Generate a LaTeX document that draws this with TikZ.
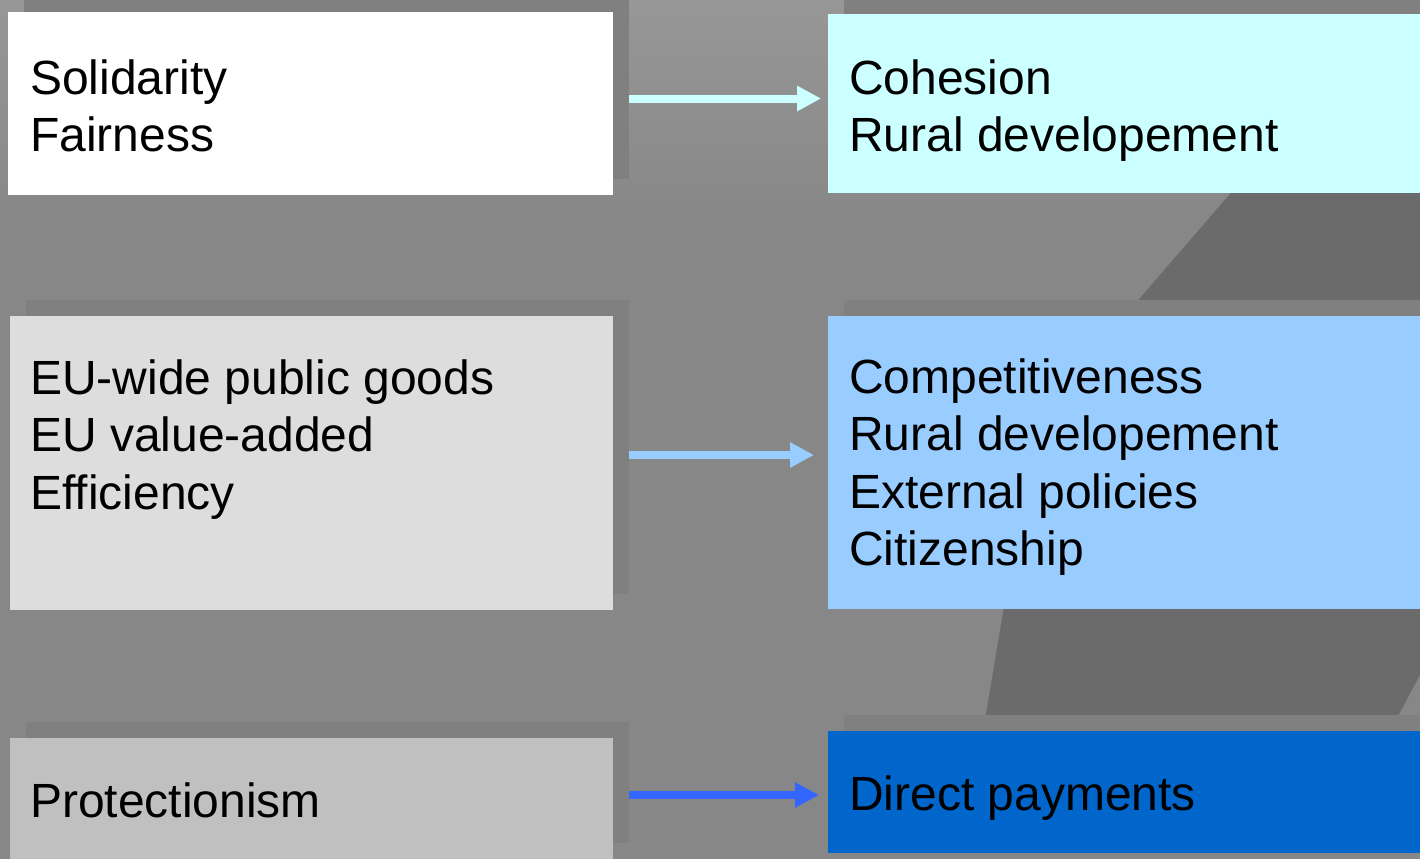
\documentclass[tikz,border=0pt]{standalone}
\usepackage{fontspec}
\setmainfont{Liberation Sans}
\usetikzlibrary{arrows.meta,shadows}
\definecolor{bg}{HTML}{878787}
\definecolor{bgtop}{HTML}{979797}
\definecolor{shade}{HTML}{808080}
\definecolor{darkshape}{HTML}{6B6B6B}
\definecolor{cyanbox}{HTML}{CCFFFF}
\definecolor{lblue}{HTML}{99CCFF}
\definecolor{dblue}{HTML}{0066CC}
\definecolor{arrblue}{HTML}{3366FF}
\definecolor{lgray}{HTML}{DDDDDD}
\definecolor{mgray}{HTML}{C0C0C0}
\begin{document}
\begin{tikzpicture}[x=1pt,y=-1pt,
  box/.style={draw=none,inner sep=0pt,outer sep=0pt,anchor=north west,
    drop shadow={shadow xshift=16pt,shadow yshift=16pt,fill=shade,opacity=1}},
  txt/.style={anchor=base west,inner sep=0pt,font=\fontsize{48}{57.5}\selectfont},
  arr/.style={line width=8pt,-{Triangle[length=24pt,width=24pt]}},
  ]
\useasboundingbox (0,0) rectangle (1420,859);
% background
\fill[bg] (0,0) rectangle (1420,859);
\shade[top color=bgtop,bottom color=bg] (0,0) rectangle (1420,220);
% dark background shapes
\fill[darkshape] (1242,180) -- (1440,180) -- (1440,305) -- (1134,305) -- cycle;
\fill[darkshape] (1005,600) -- (1440,600) -- (1440,637) -- (1396,720) -- (985,720) -- cycle;
% boxes
\node[box,fill=white,minimum width=605pt,minimum height=183pt] (L1) at (8,12) {};
\node[box,fill=lgray,minimum width=603pt,minimum height=294pt] (L2) at (10,316) {};
\node[box,fill=mgray,minimum width=603pt,minimum height=121pt] (L3) at (10,738) {};
\node[box,fill=cyanbox,minimum width=592pt,minimum height=179pt] (R1) at (828,14) {};
\node[box,fill=lblue,minimum width=592pt,minimum height=293pt] (R2) at (828,316) {};
\node[box,fill=dblue,minimum width=592pt,minimum height=122pt] (R3) at (828,731) {};
% texts
\node[txt] (T1) at (30,94) {\parbox[t]{560pt}{Solidarity\\Fairness}};
\node[txt] (T2) at (30,394) {\parbox[t]{560pt}{EU-wide public goods\\EU value-added\\Efficiency}};
\node[txt] (T3) at (30,817) {\parbox[t]{560pt}{Protectionism}};
\node[txt] (T4) at (849,94) {\parbox[t]{560pt}{Cohesion\\Rural developement}};
\node[txt] (T5) at (849,393) {\parbox[t]{560pt}{Competitiveness\\Rural developement\\External policies\\Citizenship}};
\node[txt] (T6) at (849,810) {\parbox[t]{560pt}{Direct payments}};
% arrows
\draw[arr,draw=cyanbox,fill=cyanbox] ([xshift=16pt,yshift=5pt]L1.east) -- ([xshift=-7pt,yshift=5pt]R1.west);
\draw[arr,draw=lblue,fill=lblue] ([xshift=16pt,yshift=8pt]L2.east) -- ([xshift=-14pt,yshift=7.5pt]R2.west);
\draw[arr,draw=arrblue,fill=arrblue] ([xshift=16pt,yshift=3.5pt]L3.east) -- ([xshift=-9pt,yshift=-3pt]R3.west);
\end{tikzpicture}
\end{document}
